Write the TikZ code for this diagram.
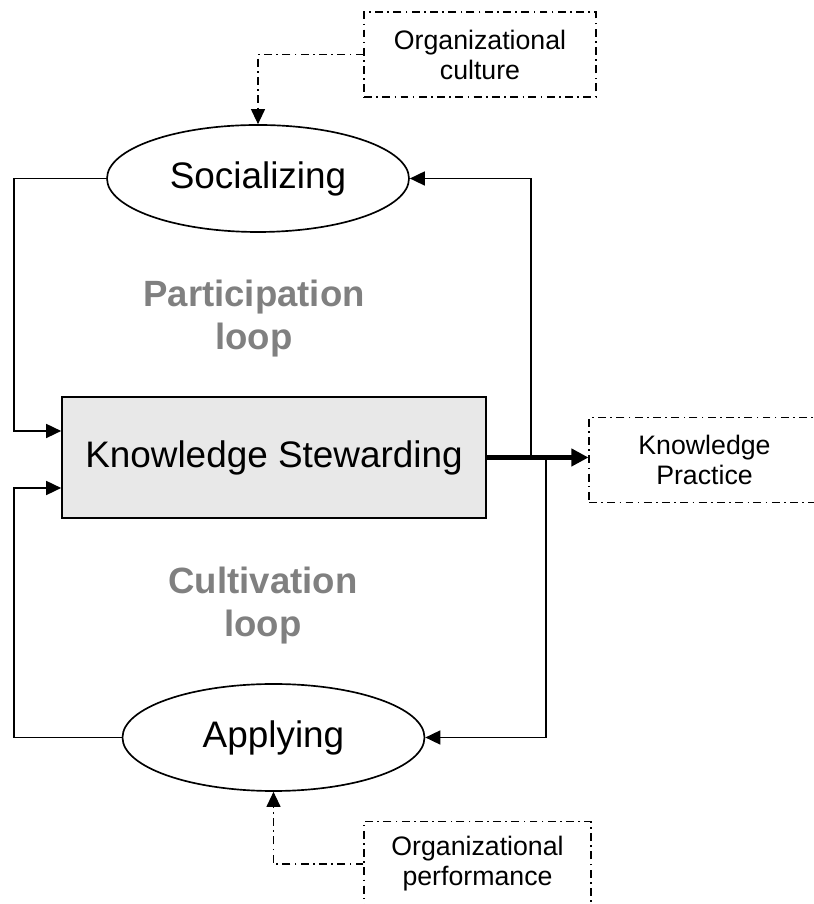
\documentclass[tikz,border=0pt]{standalone}
\usepackage{fontspec}
\setmainfont{Liberation Sans}
\usetikzlibrary{arrows.meta,calc,shapes.geometric}
\definecolor{loopgray}{HTML}{808080}
\definecolor{boxgray}{HTML}{E8E8E8}

\begin{document}
\begin{tikzpicture}[
		stage/.style={draw, line width=0.95pt, ellipse, minimum width=6.04cm, minimum height=2.14cm, inner sep=0pt, font=\fontsize{21}{25}\selectfont},
		steward/.style={draw, line width=0.95pt, fill=boxgray, minimum width=8.48cm, minimum height=2.42cm, font=\fontsize{21}{25}\selectfont},
		outer/.style={draw, line width=0.65pt, dash pattern=on 4.5pt off 2.5pt on 0.9pt off 2.5pt, minimum width=4.64cm, minimum height=1.7cm, align=center, font=\fontsize{15.2}{17.1}\selectfont},
		looplabel/.style={align=center, text=loopgray, font=\bfseries\fontsize{20.8}{24.5}\selectfont},
		flow/.style={line width=0.95pt, -{Triangle[length=0.3cm,width=0.28cm]}},
		infl/.style={line width=0.65pt, dash pattern=on 4.5pt off 2.5pt on 0.9pt off 2.5pt, -{Triangle[length=0.3cm,width=0.28cm]}},
		output/.style={line width=2.3pt, -{Triangle[length=0.34cm,width=0.34cm]}}
	]
		\useasboundingbox (0,0) rectangle (16.26,18.08);
		\node[stage] (soc) at (5.16,14.51) {Socializing};
		\node[stage] (app) at (5.47,3.33) {Applying};
		\node[steward] (ks) at (5.48,8.93) {Knowledge Stewarding};
		\node[outer] (culture) at (9.60,16.99) {Organizational\\culture};
		\node[outer, minimum width=4.62cm] (practice) at (14.09,8.88) {Knowledge\\Practice};
		\node[outer, minimum width=4.54cm] (performance) at (9.55,0.80) {Organizational\\performance};
		\node[looplabel] (partloop) at (5.08,11.70) {Participation\\loop};
		\node[looplabel] (cultloop) at (5.26,5.96) {Cultivation\\loop};
%
		\coordinate (lx) at (0.28,0);
		\coordinate (rtop) at (10.62,8.93);
		\coordinate (rbot) at (10.92,8.93);
%
		\draw[flow] (soc.west) -- (soc.west -| lx) |- ($(ks.west) + (0,0.53)$);
		\draw[flow] (app.west) -- (app.west -| lx) |- ($(ks.west) + (0,-0.61)$);
		\draw[flow] (rtop) |- (soc.east);
		\draw[flow] (rbot) |- (app.east);
		\draw[output] (ks.east) -- (ks.east -| practice.west);
		\draw[infl] (culture.west) -| (soc.north);
		\draw[infl] (performance.west) -| (app.south);
	\end{tikzpicture}
\end{document}
